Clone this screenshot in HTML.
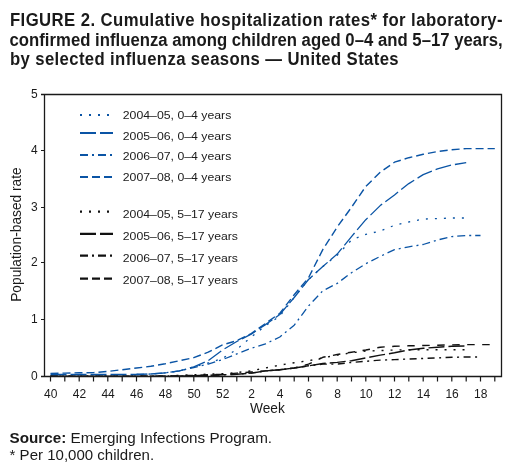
<!DOCTYPE html>
<html><head><meta charset="utf-8">
<style>
html,body{margin:0;padding:0;background:#fff;}
body{width:515px;height:473px;overflow:hidden;position:relative;}
svg{position:absolute;left:0;top:0;will-change:transform;}
text{font-family:"Liberation Sans",sans-serif;fill:#1a1a1a;}
.tk{font-size:12px;}
.ax{font-size:13.8px;}
.lg{font-size:11.5px;}
.ti{font-size:17.6px;font-weight:bold;}
.ft{font-size:14.4px;}
</style></head><body>
<svg width="515" height="473" viewBox="0 0 515 473">
<g transform="scale(0.95 1)">
<text x="10.5" y="25.8" class="ti" textLength="518.6" lengthAdjust="spacing">FIGURE 2. Cumulative hospitalization rates* for laboratory-</text>
<text x="10" y="45.8" class="ti" textLength="519.1" lengthAdjust="spacing">confirmed influenza among children aged 0–4 and 5–17 years,</text>
<text x="10.5" y="65" class="ti" textLength="409.1" lengthAdjust="spacing">by selected influenza seasons — United States</text>
</g>
<path d="M50.5 376.2 L64.8 376.2 L79.2 376.2 L93.5 376.2 L107.8 376.2 L122.2 376.2 L136.5 376.2 L150.8 376.2 L165.2 376.2 L179.5 375.4 L193.8 374.8 L208.2 374.2 L222.5 373.7 L236.8 372.6 L251.2 370.9 L265.5 368.0 L279.8 365.2 L294.2 362.7 L308.5 360.7 L322.8 357.9 L337.2 355.1 L351.5 352.8 L365.8 351.1 L380.2 350.6 L394.5 350.0 L408.8 349.7 L423.2 349.7 L437.5 349.7 L451.8 349.7 L466.2 349.7" fill="none" stroke="#111111" stroke-width="1.4" stroke-dasharray="2 7" stroke-linejoin="round"/>
<path d="M50.5 376.2 L64.8 376.2 L79.2 376.2 L93.5 376.2 L107.8 376.2 L122.2 376.2 L136.5 376.2 L150.8 376.2 L165.2 376.2 L179.5 376.2 L193.8 375.7 L208.2 375.4 L222.5 374.8 L236.8 374.2 L251.2 373.1 L265.5 370.9 L279.8 369.7 L294.2 368.0 L308.5 365.8 L322.8 363.5 L337.2 362.4 L351.5 360.7 L365.8 357.9 L380.2 355.1 L394.5 352.8 L408.8 350.0 L423.2 348.3 L437.5 347.2 L451.8 346.3 L466.2 346.0" fill="none" stroke="#111111" stroke-width="1.4" stroke-dasharray="16 4" stroke-linejoin="round"/>
<path d="M50.5 376.2 L64.8 376.2 L79.2 376.2 L93.5 376.2 L107.8 376.2 L122.2 376.2 L136.5 376.2 L150.8 376.2 L165.2 376.2 L179.5 376.2 L193.8 375.7 L208.2 375.4 L222.5 374.8 L236.8 374.2 L251.2 373.1 L265.5 370.9 L279.8 369.7 L294.2 368.0 L308.5 365.8 L322.8 364.1 L337.2 364.1 L351.5 362.4 L365.8 361.3 L380.2 360.1 L394.5 359.6 L408.8 359.0 L423.2 358.5 L437.5 357.9 L451.8 357.3 L466.2 357.0 L480.5 357.0" fill="none" stroke="#111111" stroke-width="1.4" stroke-dasharray="7 4.5 2 4.5" stroke-linejoin="round"/>
<path d="M50.5 376.2 L64.8 376.2 L79.2 376.2 L93.5 376.2 L107.8 376.2 L122.2 376.2 L136.5 376.2 L150.8 376.2 L165.2 376.2 L179.5 375.7 L193.8 375.4 L208.2 374.8 L222.5 374.2 L236.8 373.1 L251.2 372.0 L265.5 370.9 L279.8 369.7 L294.2 368.0 L308.5 364.1 L322.8 357.3 L337.2 354.5 L351.5 352.2 L365.8 350.0 L380.2 347.2 L394.5 346.3 L408.8 345.8 L423.2 345.5 L437.5 345.2 L451.8 344.9 L466.2 344.6 L480.5 344.6 L494.8 344.6" fill="none" stroke="#111111" stroke-width="1.4" stroke-dasharray="7.5 7.5" stroke-linejoin="round"/>
<path d="M136.5 374.5 L150.8 374.0 L165.2 372.8 L179.5 370.9 L193.8 367.5 L208.2 364.1 L222.5 359.6 L236.8 353.9 L251.2 348.3 L265.5 343.8 L279.8 337.0 L294.2 325.2 L308.5 306.0 L322.8 290.8 L337.2 283.4 L351.5 272.7 L365.8 263.7 L380.2 256.4 L394.5 249.6 L408.8 246.8 L423.2 244.5 L437.5 240.0 L451.8 236.6 L466.2 235.5 L480.5 235.5" fill="none" stroke="#0a54a5" stroke-width="1.3" stroke-dasharray="8 4 2 4" stroke-linejoin="round"/>
<path d="M136.5 374.5 L150.8 374.0 L165.2 372.8 L179.5 370.9 L193.8 366.9 L208.2 363.0 L222.5 358.5 L236.8 349.4 L251.2 337.0 L265.5 325.7 L279.8 316.2 L294.2 297.5 L308.5 279.5 L322.8 266.5 L337.2 255.2 L351.5 240.0 L365.8 234.4 L380.2 231.0 L394.5 225.3 L408.8 222.0 L423.2 219.1 L437.5 218.6 L451.8 218.0 L466.2 218.0" fill="none" stroke="#0a54a5" stroke-width="1.3" stroke-dasharray="2 7" stroke-linejoin="round"/>
<path d="M50.5 374.5 L64.8 374.5 L79.2 374.5 L93.5 374.5 L107.8 374.5 L122.2 374.5 L136.5 374.5 L150.8 374.0 L165.2 372.8 L179.5 370.9 L193.8 366.9 L208.2 360.7 L222.5 350.0 L236.8 341.5 L251.2 334.2 L265.5 324.6 L279.8 314.5 L294.2 297.5 L308.5 279.5 L322.8 266.5 L337.2 254.1 L351.5 236.6 L365.8 219.7 L380.2 205.6 L394.5 194.9 L408.8 183.6 L423.2 174.6 L437.5 168.9 L451.8 165.0 L466.2 162.7" fill="none" stroke="#0a54a5" stroke-width="1.3" stroke-dasharray="16 4" stroke-linejoin="round"/>
<path d="M50.5 373.4 L64.8 373.1 L79.2 372.8 L93.5 372.6 L107.8 371.4 L122.2 369.7 L136.5 368.0 L150.8 366.3 L165.2 363.8 L179.5 360.7 L193.8 357.6 L208.2 352.2 L222.5 344.9 L236.8 340.7 L251.2 333.6 L265.5 323.5 L279.8 313.3 L294.2 294.7 L308.5 277.8 L322.8 249.6 L337.2 227.0 L351.5 207.3 L365.8 186.4 L380.2 172.3 L394.5 162.2 L408.8 157.7 L423.2 154.3 L437.5 151.5 L451.8 149.8 L466.2 148.6 L480.5 148.6 L494.8 148.6" fill="none" stroke="#0a54a5" stroke-width="1.4" stroke-dasharray="8 4" stroke-linejoin="round"/>
<path d="M41 94.5 H501.5 V376.5 H41 M44.5 94.5 V376.5" fill="none" stroke="#1a1a1a" stroke-width="1.3"/>
<path d="M41 376.5 H44.5 M41 319.5 H44.5 M41 262.5 H44.5 M41 207.5 H44.5 M41 150.5 H44.5 M41 94.5 H44.5 " fill="none" stroke="#1a1a1a" stroke-width="1.2"/>
<path d="M50.5 376.5 V381.5 M64.8 376.5 V381.5 M79.2 376.5 V381.5 M93.5 376.5 V381.5 M107.8 376.5 V381.5 M122.2 376.5 V381.5 M136.5 376.5 V381.5 M150.8 376.5 V381.5 M165.2 376.5 V381.5 M179.5 376.5 V381.5 M193.8 376.5 V381.5 M208.2 376.5 V381.5 M222.5 376.5 V381.5 M236.8 376.5 V381.5 M251.2 376.5 V381.5 M265.5 376.5 V381.5 M279.8 376.5 V381.5 M294.2 376.5 V381.5 M308.5 376.5 V381.5 M322.8 376.5 V381.5 M337.2 376.5 V381.5 M351.5 376.5 V381.5 M365.8 376.5 V381.5 M380.2 376.5 V381.5 M394.5 376.5 V381.5 M408.8 376.5 V381.5 M423.2 376.5 V381.5 M437.5 376.5 V381.5 M451.8 376.5 V381.5 M466.2 376.5 V381.5 M480.5 376.5 V381.5 M494.8 376.5 V381.5 " fill="none" stroke="#1a1a1a" stroke-width="1.2"/>
<text x="37.8" y="380.4" text-anchor="end" class="tk">0</text>
<text x="37.8" y="323.4" text-anchor="end" class="tk">1</text>
<text x="37.8" y="266.4" text-anchor="end" class="tk">2</text>
<text x="37.8" y="211.4" text-anchor="end" class="tk">3</text>
<text x="37.8" y="154.4" text-anchor="end" class="tk">4</text>
<text x="37.8" y="98.4" text-anchor="end" class="tk">5</text>
<text x="50.8" y="397.5" text-anchor="middle" class="tk">40</text>
<text x="79.5" y="397.5" text-anchor="middle" class="tk">42</text>
<text x="108.1" y="397.5" text-anchor="middle" class="tk">44</text>
<text x="136.8" y="397.5" text-anchor="middle" class="tk">46</text>
<text x="165.5" y="397.5" text-anchor="middle" class="tk">48</text>
<text x="194.1" y="397.5" text-anchor="middle" class="tk">50</text>
<text x="222.8" y="397.5" text-anchor="middle" class="tk">52</text>
<text x="251.5" y="397.5" text-anchor="middle" class="tk">2</text>
<text x="280.1" y="397.5" text-anchor="middle" class="tk">4</text>
<text x="308.8" y="397.5" text-anchor="middle" class="tk">6</text>
<text x="337.5" y="397.5" text-anchor="middle" class="tk">8</text>
<text x="366.1" y="397.5" text-anchor="middle" class="tk">10</text>
<text x="394.8" y="397.5" text-anchor="middle" class="tk">12</text>
<text x="423.5" y="397.5" text-anchor="middle" class="tk">14</text>
<text x="452.1" y="397.5" text-anchor="middle" class="tk">16</text>
<text x="480.8" y="397.5" text-anchor="middle" class="tk">18</text>
<text x="250" y="413" class="ax" textLength="34.8" lengthAdjust="spacingAndGlyphs">Week</text>
<text transform="translate(20.9 301.8) rotate(-90)" class="ax" textLength="134.5" lengthAdjust="spacingAndGlyphs">Population-based rate</text>
<path d="M80 115.0 H113" fill="none" stroke="#0a54a5" stroke-width="2.2" stroke-dasharray="2 7"/>
<text x="122.8" y="118.6" class="lg" textLength="108.5" lengthAdjust="spacingAndGlyphs">2004–05, 0–4 years</text>
<path d="M80 133.0 H113" fill="none" stroke="#0a54a5" stroke-width="2.2" stroke-dasharray="16 4"/>
<text x="122.8" y="139.8" class="lg" textLength="108.5" lengthAdjust="spacingAndGlyphs">2005–06, 0–4 years</text>
<path d="M80 155.0 H113" fill="none" stroke="#0a54a5" stroke-width="2.2" stroke-dasharray="8 4 2 4"/>
<text x="122.8" y="160.0" class="lg" textLength="108.5" lengthAdjust="spacingAndGlyphs">2006–07, 0–4 years</text>
<path d="M80 177.0 H113" fill="none" stroke="#0a54a5" stroke-width="2.2" stroke-dasharray="8 4"/>
<text x="122.8" y="180.5" class="lg" textLength="108.5" lengthAdjust="spacingAndGlyphs">2007–08, 0–4 years</text>
<path d="M80 211.7 H113" fill="none" stroke="#111111" stroke-width="2.2" stroke-dasharray="2 7"/>
<text x="122.8" y="218.1" class="lg" textLength="115.2" lengthAdjust="spacingAndGlyphs">2004–05, 5–17 years</text>
<path d="M80 233.8 H113" fill="none" stroke="#111111" stroke-width="2.2" stroke-dasharray="16 4"/>
<text x="122.8" y="239.9" class="lg" textLength="115.2" lengthAdjust="spacingAndGlyphs">2005–06, 5–17 years</text>
<path d="M80 255.7 H113" fill="none" stroke="#111111" stroke-width="2.2" stroke-dasharray="8 4 2 4"/>
<text x="122.8" y="262.2" class="lg" textLength="115.2" lengthAdjust="spacingAndGlyphs">2006–07, 5–17 years</text>
<path d="M80 278.7 H113" fill="none" stroke="#111111" stroke-width="2.2" stroke-dasharray="8 4"/>
<text x="122.8" y="283.8" class="lg" textLength="115.2" lengthAdjust="spacingAndGlyphs">2007–08, 5–17 years</text>
<text x="9.6" y="442.5" class="ft" textLength="262.5" lengthAdjust="spacingAndGlyphs"><tspan font-weight="bold">Source:</tspan> Emerging Infections Program.</text>
<text x="9.6" y="459.5" class="ft" textLength="144.5" lengthAdjust="spacingAndGlyphs">* Per 10,000 children.</text>
</svg>
</body></html>
